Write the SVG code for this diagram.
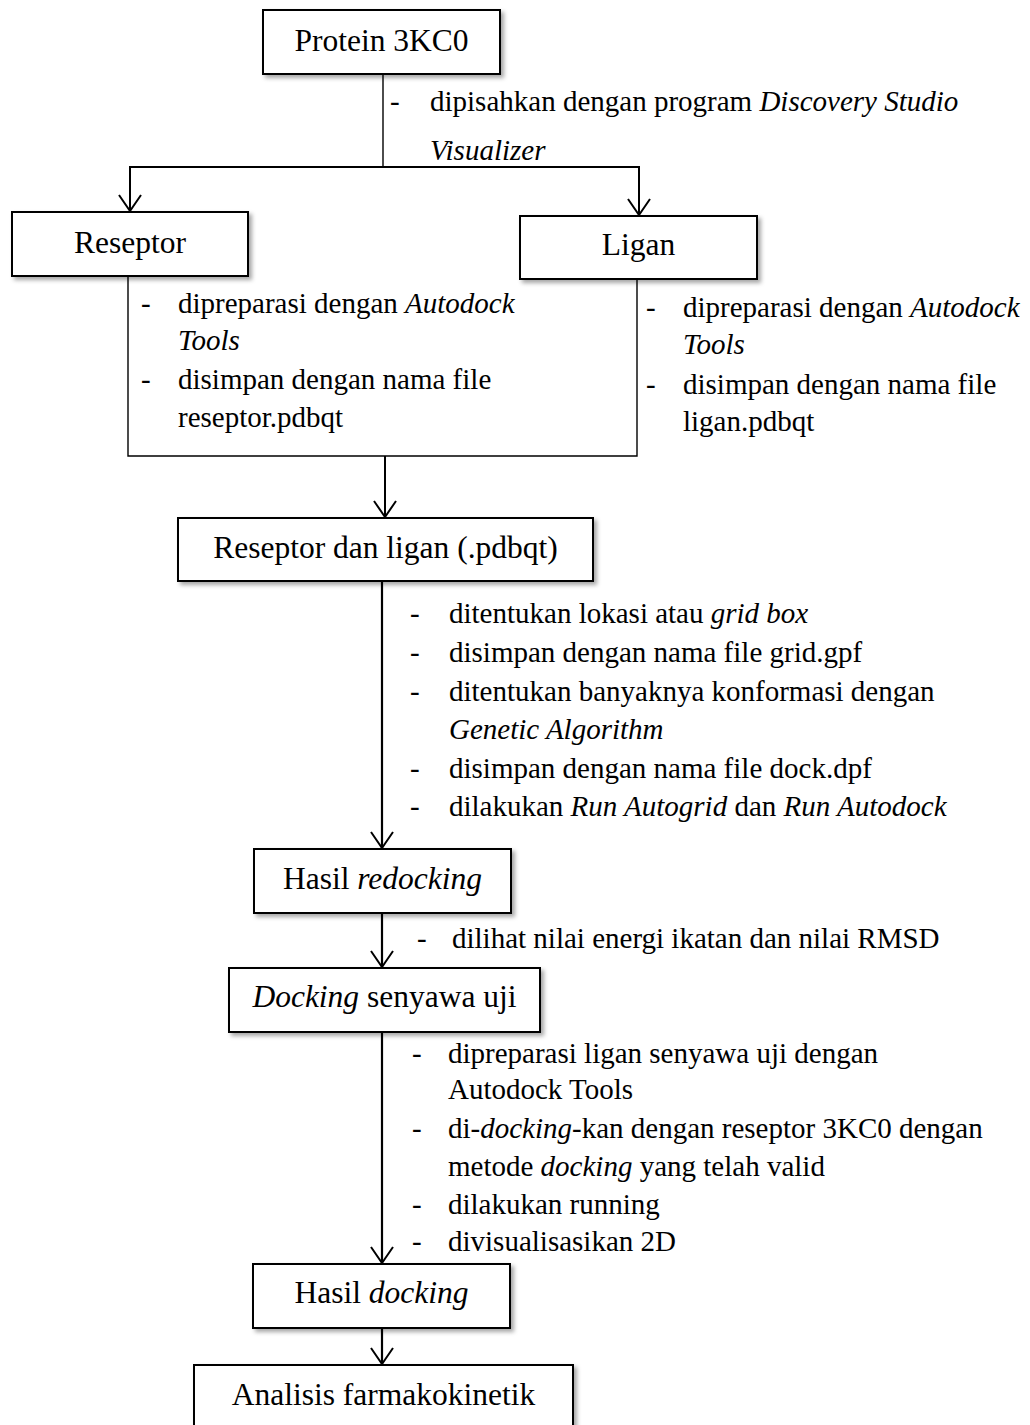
<svg xmlns="http://www.w3.org/2000/svg" width="1030" height="1425" viewBox="0 0 1030 1425">
<defs>
<filter id="sh" x="-10%" y="-20%" width="130%" height="150%">
<feDropShadow dx="3" dy="3" stdDeviation="2" flood-color="#000" flood-opacity="0.35"/>
</filter>
<marker id="ah" viewBox="-18 -13 20 26" refX="0" refY="0" markerWidth="20" markerHeight="26" markerUnits="userSpaceOnUse" orient="auto" overflow="visible">
<path d="M-16,-11 L0,0 L-16,11" fill="none" stroke="#000" stroke-width="2"/>
</marker>
</defs>
<style>
.box{fill:#fff;stroke:#000;stroke-width:2;filter:url(#sh);}
.lbl{font-family:"Liberation Serif","Times New Roman",serif;font-size:31.5px;fill:#000;text-anchor:middle;}
.ann{font-family:"Liberation Serif","Times New Roman",serif;font-size:29px;fill:#000;}
.it{font-style:italic;}
.thin{fill:none;stroke:#000;stroke-width:1.4;}
.conn{fill:none;stroke:#000;stroke-width:2;}
.arr{fill:none;stroke:#000;stroke-width:2.2;}
</style>
<rect width="1030" height="1425" fill="#fff"/>

<g id="connectors">
<line class="thin" x1="383" y1="74" x2="383" y2="167"/>
<line class="conn" x1="129" y1="167" x2="640" y2="167"/>
<line class="conn" x1="130" y1="167" x2="130" y2="211" marker-end="url(#ah)"/>
<line class="conn" x1="639" y1="167" x2="639" y2="215" marker-end="url(#ah)"/>
<polyline class="thin" points="128,276 128,456 637,456 637,279"/>
<line class="conn" x1="385" y1="456" x2="385" y2="517" marker-end="url(#ah)"/>
<line class="arr" x1="382" y1="581" x2="382" y2="848" marker-end="url(#ah)"/>
<line class="arr" x1="382" y1="913" x2="382" y2="967" marker-end="url(#ah)"/>
<line class="arr" x1="382" y1="1032" x2="382" y2="1263" marker-end="url(#ah)"/>
<line class="arr" x1="382" y1="1328" x2="382" y2="1364" marker-end="url(#ah)"/>
</g>

<g id="annotations">
<text class="ann" x="390" y="111">-</text>
<text class="ann" x="430" y="111">dipisahkan dengan program <tspan class="it">Discovery Studio</tspan></text>
<text class="ann it" x="430" y="160">Visualizer</text>

<text class="ann" x="141" y="313">-</text>
<text class="ann" x="178" y="313">dipreparasi dengan <tspan class="it">Autodock</tspan></text>
<text class="ann it" x="178" y="350">Tools</text>
<text class="ann" x="141" y="389">-</text>
<text class="ann" x="178" y="389">disimpan dengan nama file</text>
<text class="ann" x="178" y="427">reseptor.pdbqt</text>

<text class="ann" x="646" y="317">-</text>
<text class="ann" x="683" y="317">dipreparasi dengan <tspan class="it">Autodock</tspan></text>
<text class="ann it" x="683" y="354">Tools</text>
<text class="ann" x="646" y="394">-</text>
<text class="ann" x="683" y="394">disimpan dengan nama file</text>
<text class="ann" x="683" y="431">ligan.pdbqt</text>

<text class="ann" x="410" y="623">-</text>
<text class="ann" x="449" y="623">ditentukan lokasi atau <tspan class="it">grid box</tspan></text>
<text class="ann" x="410" y="662">-</text>
<text class="ann" x="449" y="662">disimpan dengan nama file grid.gpf</text>
<text class="ann" x="410" y="701">-</text>
<text class="ann" x="449" y="701">ditentukan banyaknya konformasi dengan</text>
<text class="ann it" x="449" y="739">Genetic Algorithm</text>
<text class="ann" x="410" y="778">-</text>
<text class="ann" x="449" y="778">disimpan dengan nama file dock.dpf</text>
<text class="ann" x="410" y="816">-</text>
<text class="ann" x="449" y="816">dilakukan <tspan class="it">Run Autogrid</tspan> dan <tspan class="it">Run Autodock</tspan></text>

<text class="ann" x="417" y="948">-</text>
<text class="ann" x="452" y="948">dilihat nilai energi ikatan dan nilai RMSD</text>

<text class="ann" x="412" y="1063">-</text>
<text class="ann" x="448" y="1063">dipreparasi ligan senyawa uji dengan</text>
<text class="ann" x="448" y="1099">Autodock Tools</text>
<text class="ann" x="412" y="1138">-</text>
<text class="ann" x="448" y="1138">di-<tspan class="it">docking</tspan>-kan dengan reseptor 3KC0 dengan</text>
<text class="ann" x="448" y="1176">metode <tspan class="it">docking</tspan> yang telah valid</text>
<text class="ann" x="412" y="1214">-</text>
<text class="ann" x="448" y="1214">dilakukan running</text>
<text class="ann" x="412" y="1251">-</text>
<text class="ann" x="448" y="1251">divisualisasikan 2D</text>
</g>

<g id="node-protein">
<rect class="box" x="263" y="10" width="237" height="64"/>
<text class="lbl" x="381.5" y="51">Protein 3KC0</text>
</g>
<g id="node-reseptor">
<rect class="box" x="12" y="212" width="236" height="64"/>
<text class="lbl" x="130" y="253">Reseptor</text>
</g>
<g id="node-ligan">
<rect class="box" x="520" y="216" width="237" height="63"/>
<text class="lbl" x="638.5" y="255">Ligan</text>
</g>
<g id="node-reseptor-ligan">
<rect class="box" x="178" y="518" width="415" height="63"/>
<text class="lbl" x="385.5" y="558">Reseptor dan ligan (.pdbqt)</text>
</g>
<g id="node-hasil-redocking">
<rect class="box" x="254" y="849" width="257" height="64"/>
<text class="lbl" x="382.5" y="889">Hasil <tspan class="it">redocking</tspan></text>
</g>
<g id="node-docking-senyawa">
<rect class="box" x="229" y="968" width="311" height="64"/>
<text class="lbl" x="384.5" y="1007"><tspan class="it">Docking</tspan> senyawa uji</text>
</g>
<g id="node-hasil-docking">
<rect class="box" x="253" y="1264" width="257" height="64"/>
<text class="lbl" x="381.5" y="1303">Hasil <tspan class="it">docking</tspan></text>
</g>
<g id="node-analisis">
<rect class="box" x="194" y="1365" width="379" height="70"/>
<text class="lbl" x="383.5" y="1405">Analisis farmakokinetik</text>
</g>
</svg>
